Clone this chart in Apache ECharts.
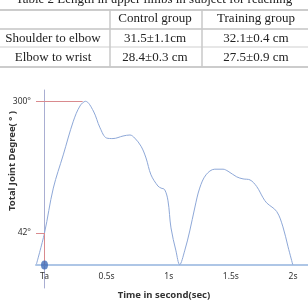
<!DOCTYPE html>
<html>
<head>
<meta charset="utf-8">
<script src="https://cdn.jsdelivr.net/npm/echarts@6/dist/echarts.min.js"></script>
<style>html,body{margin:0;padding:0;background:#fff;}#c{width:308px;height:300px;}</style>
</head>
<body>
<div id="c"></div>
<script>
// ---- table data ----
var tableTitle = 'Table 2 Length in upper limbs in subject for reaching';
var tableHeader = ['', 'Control group', 'Training group'];
var tableRows = [
  ['Shoulder to elbow', '31.5±1.1cm', '32.1±0.4 cm'],
  ['Elbow to wrist', '28.4±0.3 cm', '27.5±0.9 cm']
];

// ---- chart data ----
var timeSec = [-0.065, 0, 0.071, 0.151, 0.232, 0.286, 0.33, 0.393, 0.447, 0.5, 0.551, 0.632, 0.688, 0.726, 0.777, 0.817, 0.857, 0.913, 0.938, 0.967, 0.994, 1.018, 1.058, 1.088, 1.128, 1.169, 1.209, 1.249, 1.3, 1.37, 1.437, 1.477, 1.547, 1.598, 1.654, 1.708, 1.759, 1.788, 1.869, 1.919, 1.96, 1.998];
var jointDeg = [-19, 42, 130, 195, 261, 291, 300, 281, 248, 228, 227, 232, 234, 228, 212, 189, 156, 134, 130, 127, 105, 52, 7, -20, 7, 46, 91, 130, 156, 167, 167, 163, 152, 148, 146, 133, 111, 101, 84, 54, 15, -20];
var xTickValues = [0, 0.5, 1, 1.5, 2];
var xTickLabels = ['Ta', '0.5s', '1s', '1.5s', '2s'];
var yTickValues = [42, 300];
var yTickLabels = ['42°', '300°'];
var peakDeg = 300, peakTime = 0.307;
var taDeg = 42, taTime = 0;
var baselineDeg = -20.69;
var xMin = -0.0684, xMax = 2.1207;
var yMin = -65.74, yMax = 322.13;

var chart = echarts.init(document.getElementById('c'), null, {renderer: 'canvas'});

// table graphics
var colCenters = [53, 155, 256];
var rowCenters = [18.5, 38.5, 57.5];
var g = [];
g.push({type: 'text', x: 154, y: -0.5, style: {text: tableTitle, font: '13px "Liberation Serif"', fill: '#222', align: 'center', verticalAlign: 'middle'}});
var hLines = [[10, '#999', 1], [29, '#c4c4c4', 1.5], [47, '#d0d0d0', 1.2], [67, '#999', 1]];
hLines.forEach(function (h) {
  g.push({type: 'line', shape: {x1: 0, y1: h[0], x2: 308, y2: h[0]}, style: {stroke: h[1], lineWidth: h[2]}});
});
[110, 202].forEach(function (x) {
  g.push({type: 'line', shape: {x1: x, y1: 10, x2: x, y2: 67}, style: {stroke: '#c8c8c8', lineWidth: 1.5}});
});
var allRows = [tableHeader].concat(tableRows);
allRows.forEach(function (row, ri) {
  row.forEach(function (cell, ci) {
    if (!cell) return;
    g.push({type: 'text', x: colCenters[ci], y: rowCenters[ri], style: {text: cell, font: '13px "Liberation Serif"', fill: '#222', align: 'center', verticalAlign: 'middle'}});
  });
});
// axis titles
g.push({type: 'text', x: 164, y: 295, style: {text: 'Time in second(sec)', font: 'bold 9.5px "Noto Sans"', fill: '#333', align: 'center', verticalAlign: 'middle'}});
g.push({type: 'text', x: 12, y: 161, rotation: Math.PI / 2, style: {text: 'Total Joint Degree( ° )', font: 'bold 9.5px "Noto Sans"', fill: '#333', align: 'center', verticalAlign: 'middle'}});

var lineData = timeSec.map(function (t, i) { return [t, jointDeg[i]]; });

chart.setOption({
  animation: false,
  backgroundColor: '#fff',
  grid: {left: 36, right: 0, top: 90, bottom: 12, containLabel: false},
  xAxis: {
    type: 'value', min: xMin, max: xMax, offset: -23,
    axisLine: {show: true, onZero: false, lineStyle: {color: '#aec6e6', width: 2}},
    axisTick: {show: false},
    splitLine: {show: false},
    axisLabel: {
      customValues: xTickValues, margin: 7,
      fontFamily: 'Noto Sans', fontSize: 8.5, color: '#333',
      formatter: function (v) { var i = xTickValues.indexOf(v); return i >= 0 ? xTickLabels[i] : ''; }
    }
  },
  yAxis: {
    type: 'value', min: yMin, max: yMax,
    axisLine: {show: true, lineStyle: {color: '#a9aed2', width: 1}},
    axisTick: {show: false},
    splitLine: {show: false},
    axisLabel: {
      customValues: yTickValues, margin: 5,
      fontFamily: 'Noto Sans', fontSize: 8.5, color: '#333',
      formatter: function (v) { var i = yTickValues.indexOf(v); return i >= 0 ? yTickLabels[i] : ''; }
    }
  },
  series: [
    {
      type: 'line', data: lineData, smooth: 0.35, showSymbol: false,
      lineStyle: {color: '#8ea8d8', width: 1},
      markLine: {
        silent: true, symbol: 'none', label: {show: false},
        lineStyle: {color: '#d98a8e', width: 1, type: 'solid'},
        data: [
          [{coord: [xMin, peakDeg]}, {coord: [peakTime, peakDeg]}],
          [{coord: [xMin, taDeg]}, {coord: [taTime, taDeg]}],
          [{coord: [taTime, taDeg]}, {coord: [taTime, baselineDeg]}]
        ]
      }
    },
    {
      type: 'scatter', data: [[taTime, baselineDeg]], symbol: 'circle', symbolSize: [7, 9],
      itemStyle: {color: '#3f6cb8'}, z: 5
    }
  ],
  graphic: g
});
</script>
</body>
</html>
